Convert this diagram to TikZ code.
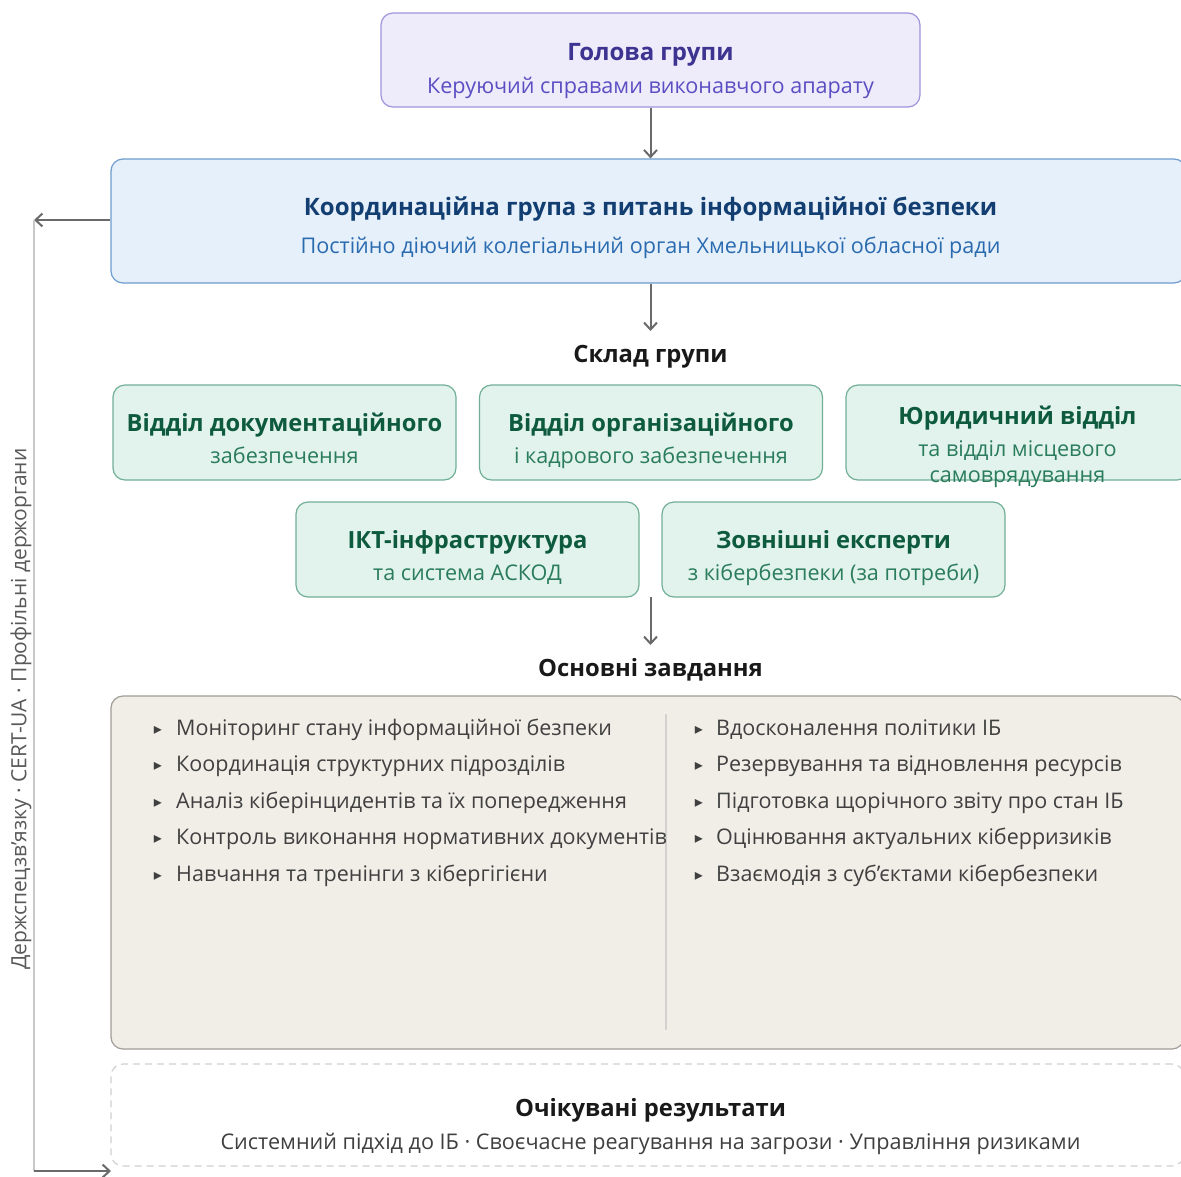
\documentclass[tikz,border=0pt]{standalone}
\usepackage{fontspec}
\setmainfont{Open Sans}
\newfontfamily\symfont{DejaVu Sans}
\usetikzlibrary{arrows.meta}
\definecolor{headfill}{HTML}{EEECFB}
\definecolor{headdraw}{HTML}{9C94DC}
\definecolor{headtitle}{HTML}{3D3390}
\definecolor{headsub}{HTML}{5A4EC2}
\definecolor{coordfill}{HTML}{E6F0FA}
\definecolor{coorddraw}{HTML}{6E9CCF}
\definecolor{coordtitle}{HTML}{123E72}
\definecolor{coordsub}{HTML}{2A6BB0}
\definecolor{memfill}{HTML}{E1F3EC}
\definecolor{memdraw}{HTML}{72AF96}
\definecolor{memtitle}{HTML}{0E5A3F}
\definecolor{memsub}{HTML}{2A7C5D}
\definecolor{taskfill}{HTML}{F1EEE8}
\definecolor{taskdraw}{HTML}{A09C96}
\definecolor{tasktext}{HTML}{404040}
\definecolor{arrowc}{HTML}{6A6A6A}
\definecolor{sidec}{HTML}{C8C8C8}
\definecolor{dashc}{HTML}{D0D0D0}
\begin{document}
\begin{tikzpicture}[x=1pt,y=-1pt,
  box/.style={rectangle,rounded corners=12pt,line width=1.2pt,inner sep=0pt},
  headbox/.style={box,fill=headfill,draw=headdraw},
  coordbox/.style={box,fill=coordfill,draw=coorddraw},
  membox/.style={box,fill=memfill,draw=memdraw,minimum width=343pt,minimum height=95pt},
  taskbox/.style={box,fill=taskfill,draw=taskdraw},
  resbox/.style={box,draw=dashc,dash pattern=on 7pt off 5pt,line width=1.2pt},
  txt/.style={inner sep=0pt,anchor=base},
  ttl/.style={txt,font=\fontsize{24}{28}\selectfont\bfseries},
  mttl/.style={txt,font=\fontsize{23.7}{28}\selectfont\bfseries,text=memtitle},
  sub/.style={txt,font=\fontsize{21.6}{25}\selectfont},
  sect/.style={txt,font=\fontsize{23.8}{28}\selectfont\bfseries,text=black!90},
  item/.style={inner sep=0pt,anchor=base west,font=\fontsize{21.5}{25}\selectfont,text=tasktext},
  bul/.style={inner sep=0pt,anchor=base,font=\symfont\fontsize{16}{18}\selectfont,text=tasktext},
  conn/.style={draw=arrowc,line width=2pt,-{Straight Barb[length=7pt,width=13pt,line width=2pt]}}
]
\useasboundingbox (0,0) rectangle (1181,1176);
\fill[white] (0,0) rectangle (1181,1176);

% head
\node[headbox,minimum width=539pt,minimum height=94pt] (head) at (650.5,60) {};
\node[ttl,text=headtitle] (headT) at (650.5,60) {Голова групи};
\node[sub,text=headsub] (headS) at (650.5,93) {Керуючий справами виконавчого апарату};

% coordination
\node[coordbox,minimum width=1075pt,minimum height=124pt] (coord) at (648.5,221) {};
\node[ttl,text=coordtitle] (coordT) at (650.5,215) {Координаційна група з питань інформаційної безпеки};
\node[sub,text=coordsub] (coordS) at (650.5,253) {Постійно діючий колегіальний орган Хмельницької обласної ради};

\draw[conn] (head.south) -- (head.south |- coord.north);
\coordinate (sklTop) at (650.5,331);
\draw[conn] (sklTop |- coord.south) -- (sklTop);
\node[sect] (skl) at (650.5,362) {Склад групи};

% members
\node[membox] (m1) at (284.5,432.5) {};
\node[membox] (m2) at (651,432.5) {};
\node[membox] (m3) at (1017.5,432.5) {};
\node[membox] (m4) at (467.5,549.5) {};
\node[membox] (m5) at (833.5,549.5) {};

\node[mttl] at (284.5,431) {Відділ документаційного};
\node[sub,text=memsub] at (284.5,463) {забезпечення};
\node[mttl] at (651,431) {Відділ організаційного};
\node[sub,text=memsub] at (651,463) {і кадрового забезпечення};
\node[mttl] at (1017.5,424) {Юридичний відділ};
\node[sub,text=memsub] at (1017.5,456) {та відділ місцевого};
\node[sub,text=memsub] at (1017.5,482) {самоврядування};
\node[mttl] at (467.5,548) {ІКТ-інфраструктура};
\node[sub,text=memsub] at (467.5,580) {та система АСКОД};
\node[mttl] at (833.5,548) {Зовнішні експерти};
\node[sub,text=memsub] at (833.5,580) {з кібербезпеки (за потреби)};

\coordinate (memBot) at (650.5,597);
\coordinate (tskTop) at (650.5,645);
\draw[conn] (memBot) -- (tskTop);
\node[sect] (tsk) at (650.5,676) {Основні завдання};

% tasks
\node[taskbox,minimum width=1073pt,minimum height=353pt] (tasks) at (647.5,872.5) {};
\coordinate (divT) at (666,714);
\coordinate (divB) at (666,1030);
\draw[draw=taskdraw!45,line width=1.5pt] (divT) -- (divB);

\foreach \y/\t in {735/Моніторинг стану інформаційної безпеки,771.5/Координація структурних підрозділів,808/Аналіз кіберінцидентів та їх попередження,844.5/Контроль виконання нормативних документів,881/Навчання та тренінги з кібергігієни}{
  \node[bul] at (158,\y-1) {▸};
  \node[item] at (176,\y) {\t};
}
\foreach \y/\t in {735/Вдосконалення політики ІБ,771.5/Резервування та відновлення ресурсів,808/Підготовка щорічного звіту про стан ІБ,844.5/Оцінювання актуальних кіберризиків,881/Взаємодія з суб'єктами кібербезпеки}{
  \node[bul] at (699,\y-1) {▸};
  \node[item] at (716,\y) {\t};
}

% results
\node[resbox,minimum width=1073pt,minimum height=102pt] (res) at (647.5,1115) {};
\node[sect] (resT) at (650.5,1116) {Очікувані результати};
\node[sub,text=tasktext] (resS) at (650.5,1149) {Системний підхід до ІБ · Своєчасне реагування на загрози · Управління ризиками};

% side link
\coordinate (sideTop) at (34,220);
\coordinate (sideBot) at (34,1171);
\coordinate (resIn) at (111,1171);
\draw[conn] (coord.west |- sideTop) -- (sideTop);
\draw[draw=sidec,line width=1.6pt] (sideTop) -- (sideBot);
\draw[conn] (sideBot) -- (resIn);
\node[inner sep=0pt,rotate=90,font=\fontsize{21}{25}\selectfont,text=black!65] (side) at (21,709) {Держспецзв'язку · CERT-UA · Профільні держоргани};
\end{tikzpicture}
\end{document}
